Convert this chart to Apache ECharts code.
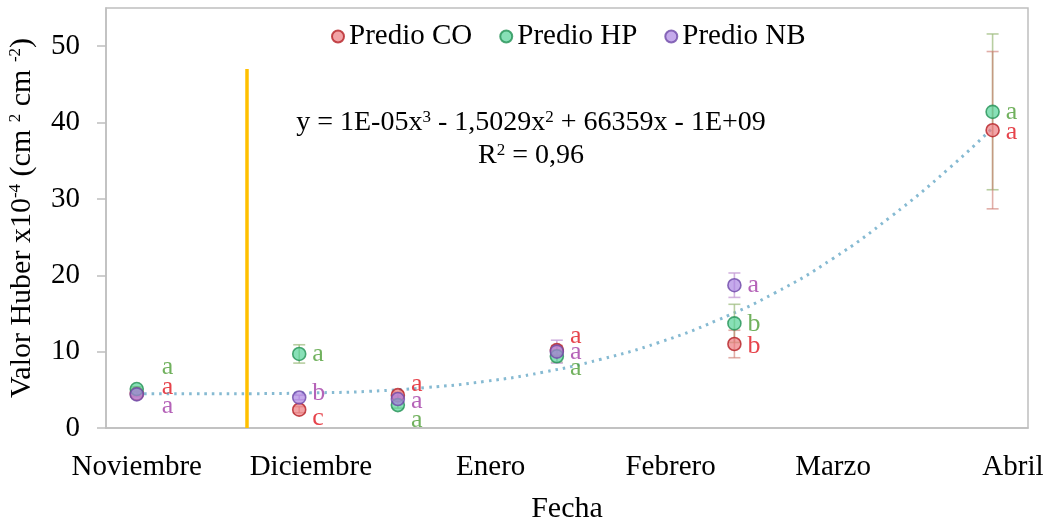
<!DOCTYPE html>
<html><head><meta charset="utf-8">
<script src="https://cdn.jsdelivr.net/npm/echarts@6/dist/echarts.min.js"></script>
<style>html,body{margin:0;padding:0;background:#fff}#c{width:1050px;height:520px}</style>
</head><body><div id="c"></div>
<script>
// ---- data ----
const monthNames = ['Noviembre', 'Diciembre', 'Enero', 'Febrero', 'Marzo', 'Abril'];
const monthDays = [0, 30, 61, 92, 120, 151];          // days from 1 Nov
const sampleDays = [0, 28, 45, 72.4, 103, 147.5];     // sampling dates, days from 1 Nov
const yTickValues = [0, 10, 20, 30, 40, 50];
const seriesNames = ['Predio CO', 'Predio HP', 'Predio NB'];

const coMean = [4.5, 2.4, 4.3, 10.2, 11.0, 39.0];
const coErr  = [0.3, 0.4, 0.4, 0.6, 1.8, 10.3];
const coLetters = ['a', 'c', 'a', 'a', 'b', 'a'];
const coLetterY = [5.4, 1.3, 5.7, 12.0, 10.7, 38.8];

const hpMean = [5.1, 9.7, 3.0, 9.4, 13.7, 41.4];
const hpErr  = [0.3, 1.2, 0.4, 0.8, 2.5, 10.2];
const hpLetters = ['a', 'a', 'a', 'a', 'b', 'a'];
const hpLetterY = [8.0, 9.7, 1.05, 7.8, 13.6, 41.4];

const nbMean = [4.4, 4.0, 3.8, 10.0, 18.7, null];
const nbErr  = [0.3, 0.3, 0.4, 1.5, 1.6, null];
const nbLetters = ['a', 'b', 'a', 'a', 'a', null];
const nbLetterY = [2.9, 4.5, 3.5, 9.9, 18.7, null];

// polynomial trend line
const trendDays   = [0, 10, 20, 30, 40, 50, 60, 70, 80, 90, 100, 110, 120, 130, 140, 147.5];
const trendValues = [4.5, 4.5, 4.5, 4.6, 4.8, 5.3, 6.1, 7.3, 9.0, 11.2, 14.1, 17.7, 22.2, 27.7, 34.0, 39.3];

const dividerDay = 19;
const dividerTop = 47;

const equationText = 'y = 1E-05x{s|3} - 1,5029x{s|2} + 66359x - 1E+09';
const r2Text = 'R{s|2} = 0,96';

// ---- styling ----
const FONT = '"Liberation Serif", "Times New Roman", serif';
const styles = [
  { fill: 'rgba(236,120,124,0.85)', border: '#B52025', err: 'rgba(205,120,110,0.6)', letter: '#E0141E' },
  { fill: 'rgba(80,210,150,0.85)', border: '#239155', err: 'rgba(160,190,130,0.75)', letter: '#4E9E36' },
  { fill: 'rgba(170,130,225,0.85)', border: '#6E48A8', err: 'rgba(200,160,215,0.8)', letter: '#A23CA6' }
];
const means = [coMean, hpMean, nbMean];
const errs = [coErr, hpErr, nbErr];
const letters = [coLetters, hpLetters, nbLetters];
const letterYs = [coLetterY, hpLetterY, nbLetterY];

const series = [];

series.push({
  type: 'line', name: 'divider', silent: true, symbol: 'none', z: 1,
  data: [[dividerDay, 0], [dividerDay, dividerTop]],
  lineStyle: { color: '#FFC000', width: 3.5 }
});

series.push({
  type: 'line', name: 'trend', silent: true, symbol: 'none', smooth: true, z: 2,
  data: trendDays.map((d, i) => [d, trendValues[i]]),
  lineStyle: { color: '#86BAD2', width: 3, type: [2.5, 5] }
});

// error bars: HP first, then NB, then CO on top (translucent, mixes to tan where overlapping)
[1, 2, 0].forEach(k => {
  const st = styles[k];
  const errData = [];
  sampleDays.forEach((d, i) => {
    if (means[k][i] != null) errData.push([d, means[k][i] - errs[k][i], means[k][i] + errs[k][i]]);
  });
  series.push({
    type: 'custom', name: 'err' + k, silent: true, z: 3,
    data: errData,
    encode: { x: 0, y: [1, 2] },
    renderItem: function (params, api) {
      const lo = api.coord([api.value(0), api.value(1)]);
      const hi = api.coord([api.value(0), api.value(2)]);
      const hw = 6;
      const s = { stroke: st.err, lineWidth: 1.6 };
      return {
        type: 'group', children: [
          { type: 'line', shape: { x1: lo[0], y1: lo[1], x2: hi[0], y2: hi[1] }, style: s },
          { type: 'line', shape: { x1: lo[0] - hw, y1: lo[1], x2: lo[0] + hw, y2: lo[1] }, style: s },
          { type: 'line', shape: { x1: hi[0] - hw, y1: hi[1], x2: hi[0] + hw, y2: hi[1] }, style: s }
        ]
      };
    }
  });
});

for (let k = 0; k < 3; k++) {
  const st = styles[k];
  const pts = [];
  sampleDays.forEach((d, i) => { if (means[k][i] != null) pts.push([d, means[k][i]]); });
  series.push({
    type: 'scatter', name: seriesNames[k], z: 5,
    symbol: 'circle', symbolSize: 13,
    data: pts,
    itemStyle: { color: st.fill, borderColor: st.border, borderWidth: 1.6 }
  });
}

for (let k = 0; k < 3; k++) {
  const st = styles[k];
  const pts = [];
  sampleDays.forEach((d, i) => {
    if (letters[k][i] != null) {
      pts.push({
        value: [d, letterYs[k][i], letters[k][i]],
        label: { distance: i === 0 ? 25 : 13 }
      });
    }
  });
  series.push({
    type: 'scatter', name: 'letters' + k, silent: true, z: 6,
    symbolSize: 0.1,
    data: pts,
    itemStyle: { color: 'rgba(0,0,0,0)' },
    label: {
      show: true, position: 'right',
      formatter: p => p.value[2],
      color: st.letter, fontFamily: FONT, fontSize: 26
    }
  });
}

const option = {
  animation: false,
  backgroundColor: '#fff',
  textStyle: { fontFamily: FONT },
  grid: {
    left: 106, right: 22, top: 8, bottom: 92, show: true,
    borderColor: '#BFBFBF', borderWidth: 1.5, outerBoundsMode: 'none', containLabel: false
  },
  legend: {
    data: seriesNames, top: 17, left: 326,
    icon: 'circle', itemWidth: 12, itemHeight: 12, itemGap: 27,
    textStyle: { fontFamily: FONT, fontSize: 29, color: '#000' }
  },
  xAxis: {
    type: 'value', min: -5.3, max: 153.6,
    name: 'Fecha', nameLocation: 'middle', nameGap: 66,
    nameTextStyle: { fontFamily: FONT, fontSize: 30, color: '#000' },
    axisLine: { show: true, onZero: false, lineStyle: { color: '#BFBFBF', width: 1.5 } },
    axisTick: { show: false },
    splitLine: { show: false },
    axisLabel: {
      customValues: monthDays,
      formatter: v => monthNames[monthDays.indexOf(v)] || '',
      fontFamily: FONT, fontSize: 29, color: '#000', margin: 25
    }
  },
  yAxis: {
    type: 'value', min: 0, max: 55,
    name: 'Valor Huber x10{s|-4} (cm {s|2} cm {s|-2})', nameLocation: 'middle', nameGap: 69,
    nameTextStyle: {
      fontFamily: FONT, fontSize: 30, color: '#000',
      rich: { s: { fontFamily: FONT, fontSize: 17, color: '#000', verticalAlign: 'top', padding: [0, 0, 12, 0] } }
    },
    axisLine: { show: true, onZero: false, lineStyle: { color: '#BFBFBF', width: 1.5 } },
    axisTick: { show: true, customValues: yTickValues, length: 9, lineStyle: { color: '#BFBFBF', width: 1.5 } },
    splitLine: { show: false },
    axisLabel: {
      customValues: yTickValues,
      fontFamily: FONT, fontSize: 29, color: '#000', margin: 26
    }
  },
  graphic: [
    {
      type: 'text', x: 531, y: 123, silent: true,
      style: {
        text: equationText, align: 'center', verticalAlign: 'middle',
        fontFamily: FONT, fontSize: 28, fill: '#000',
        rich: { s: { fontFamily: FONT, fontSize: 17, fill: '#000', verticalAlign: 'top', padding: [0, 0, 10, 0] } }
      }
    },
    {
      type: 'text', x: 531, y: 156, silent: true,
      style: {
        text: r2Text, align: 'center', verticalAlign: 'middle',
        fontFamily: FONT, fontSize: 28, fill: '#000',
        rich: { s: { fontFamily: FONT, fontSize: 17, fill: '#000', verticalAlign: 'top', padding: [0, 0, 10, 0] } }
      }
    }
  ],
  series: series
};

const chart = echarts.init(document.getElementById('c'), null, { renderer: 'canvas' });
chart.setOption(option);
</script>
</body></html>
